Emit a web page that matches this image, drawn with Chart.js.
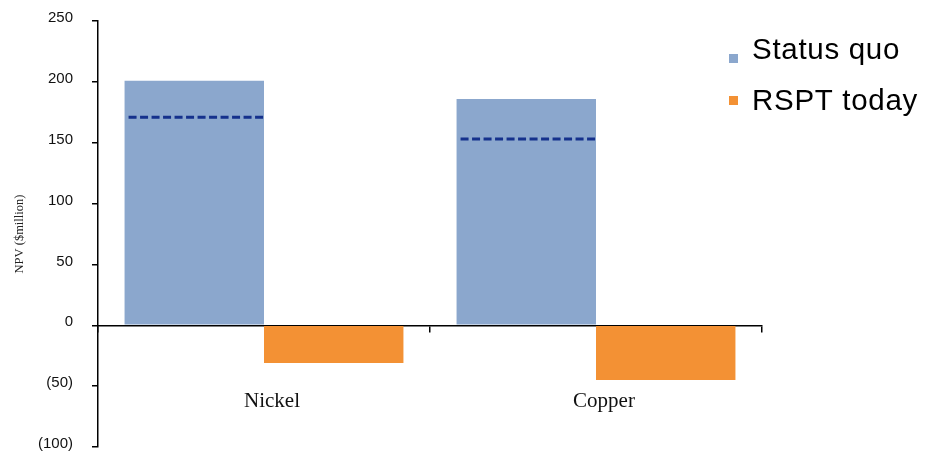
<!DOCTYPE html>
<html>
<head>
<meta charset="utf-8">
<script src="https://cdn.jsdelivr.net/npm/chart.js@4.4.0/dist/chart.umd.min.js"></script>
<style>
html, body { margin: 0; padding: 0; background: #fff; }
</style>
</head>
<body>
<canvas id="myChart" width="931" height="452"></canvas>
<script>
// data ($million NPV)
const categories = ["Nickel", "Copper"];
const seriesNames = ["Status quo", "RSPT today"];
const statusQuo = [201, 186];
const rsptToday = [-31, -45];
const dashedLevel = [171, 153];
const yTicks = [250, 200, 150, 100, 50, 0, -50, -100];

const barColors = ["#8BA7CD", "#F39134"];

// dashed marker across each status quo bar
const dashPlugin = {
    id: "dashLines",
    afterDatasetsDraw(chart) {
        const ctx = chart.ctx;
        const y = chart.scales.y;
        const meta = chart.getDatasetMeta(0);
        ctx.save();
        ctx.strokeStyle = "#15318C";
        ctx.lineWidth = 3;
        ctx.setLineDash([8, 3.5]);
        meta.data.forEach((bar, i) => {
            const py = y.getPixelForValue(dashedLevel[i]);
            ctx.beginPath();
            ctx.moveTo(bar.x - bar.width / 2 + 4, py);
            ctx.lineTo(bar.x + bar.width / 2, py);
            ctx.stroke();
        });
        ctx.restore();
    }
};

// legend sits in the top right corner, partly over the plot
const legendPlugin = {
    id: "sideLegend",
    afterDraw(chart) {
        const ctx = chart.ctx;
        const boxTop = [54, 96];
        const baseline = [59, 110];
        ctx.save();
        ctx.font = "29.5px 'Liberation Sans', Arial, sans-serif";
        ctx.letterSpacing = "0.7px";
        ctx.textBaseline = "alphabetic";
        chart.data.datasets.forEach((ds, i) => {
            ctx.fillStyle = ds.backgroundColor;
            ctx.fillRect(729, boxTop[i], 9, 9);
            ctx.fillStyle = "#000";
            ctx.fillText(ds.label, 752, baseline[i]);
        });
        ctx.restore();
    }
};

new Chart("myChart", {
    type: "bar",
    data: {
        labels: categories,
        datasets: [
            { label: seriesNames[0], data: statusQuo, backgroundColor: barColors[0], borderWidth: 0 },
            { label: seriesNames[1], data: rsptToday, backgroundColor: barColors[1], borderWidth: 0 }
        ]
    },
    options: {
        responsive: false,
        animation: false,
        categoryPercentage: 0.84,
        barPercentage: 1,
        layout: { padding: { top: 21, right: 169, bottom: 5, left: 0 } },
        plugins: {
            legend: { display: false },
            tooltip: { enabled: false }
        },
        scales: {
            x: {
                position: { y: 0 },
                offset: true,
                grid: { drawOnChartArea: false, offset: true, tickLength: 6, color: "#000", lineWidth: 1.5 },
                border: { color: "#000", width: 1.5 },
                ticks: {
                    padding: 58,
                    labelOffset: 8,
                    maxRotation: 0,
                    color: "#111",
                    font: { family: "'Liberation Serif', 'Times New Roman', serif", size: 21 }
                }
            },
            y: {
                min: yTicks[yTicks.length - 1],
                max: yTicks[0],
                afterBuildTicks: axis => { axis.ticks = yTicks.map(v => ({ value: v })); },
                afterFit: axis => {
                    axis.width = 98;
                    // tick padding would otherwise push the plot in from top and bottom
                    axis.paddingTop = 0;
                    axis.paddingBottom = 0;
                },
                grid: { drawOnChartArea: false, tickLength: 6, color: "#000", lineWidth: 1.5 },
                border: { color: "#000", width: 1.5 },
                ticks: {
                    padding: 19,
                    labelOffset: -3,
                    color: "#111",
                    font: { family: "'Liberation Sans', Arial, sans-serif", size: 15 },
                    callback: v => v < 0 ? "(" + (-v) + ")" : v
                },
                title: {
                    display: true,
                    text: "NPV ($million)",
                    color: "#222",
                    font: { family: "'Liberation Serif', 'Times New Roman', serif", size: 12.5 },
                    padding: { top: 12, bottom: 4 }
                }
            }
        }
    },
    plugins: [dashPlugin, legendPlugin]
});
</script>
</body>
</html>
